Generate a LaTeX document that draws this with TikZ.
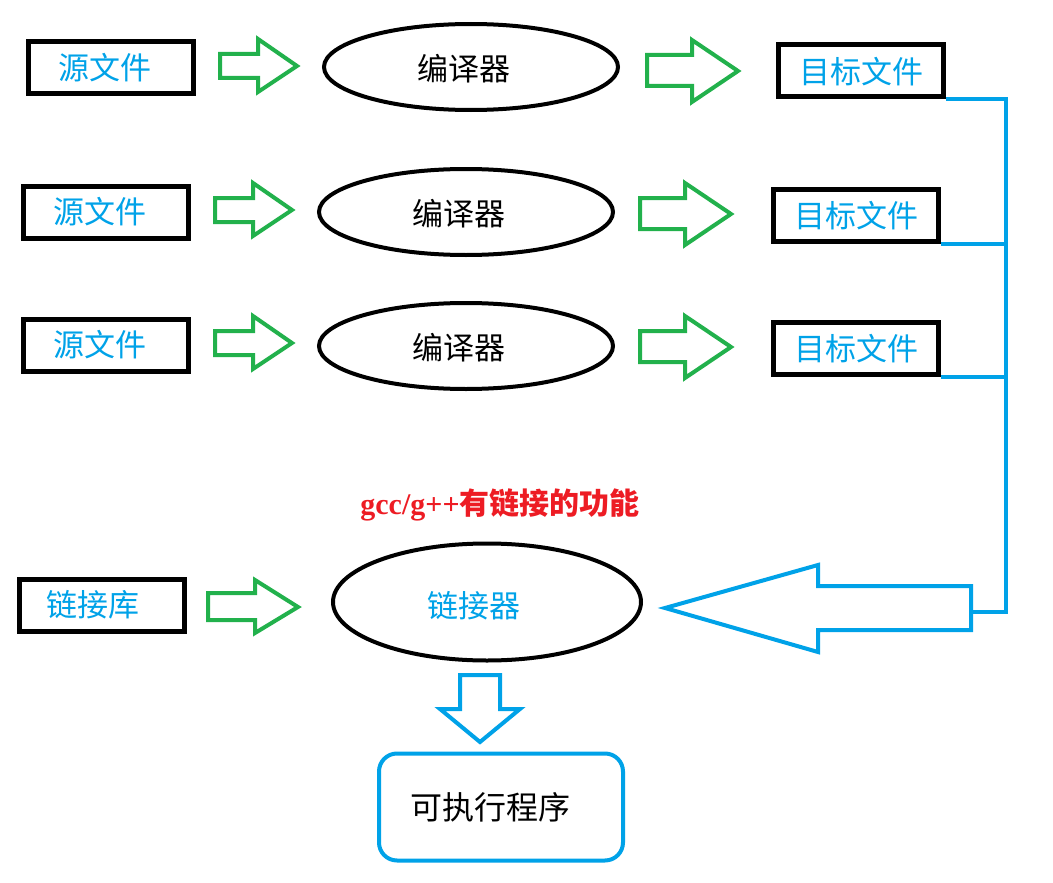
\documentclass[tikz,border=0pt]{standalone}
\usepackage{fontspec}
\setmainfont{Liberation Serif}
\newfontfamily\cjk{Noto Sans CJK SC}
\usetikzlibrary{shapes.geometric}
\definecolor{pblue}{RGB}{0,162,232}
\definecolor{pgreen}{RGB}{34,177,76}
\definecolor{pred}{RGB}{237,28,36}
\begin{document}
\begin{tikzpicture}[x=1pt,y=-1pt,
  box/.style={draw=black,line width=5pt,minimum width=165pt,minimum height=52pt,inner sep=0pt},
  ell/.style={draw=black,ellipse,line width=4pt,inner sep=0pt,minimum width=294pt,minimum height=86pt},
  lab/.style={font=\cjk\fontsize{31}{31}\selectfont,text=pblue,inner sep=0pt},
  blab/.style={font=\cjk\fontsize{31}{31}\selectfont,text=black,inner sep=0pt},
  garrow/.style={draw=pgreen,line width=4pt,line join=miter},
  barrow/.style={draw=pblue,line width=4pt,line join=miter},
  bline/.style={draw=pblue,line width=4pt}]
\useasboundingbox (0,0) rectangle (1053,883);
% row 1
\node[box] (s1) at (111,68) {};
\node[lab] at ([xshift=-6pt]s1.center) {源文件};
\node[ell] (c1) at (471,67) {};
\node[blab] at ([xshift=-7pt,yshift=-2pt]c1.center) {编译器};
\node[box] (t1) at (861,71) {};
\node[lab] at ([yshift=-1pt]t1.center) {目标文件};
% row 2
\node[box] (s2) at (106,212) {};
\node[lab] at ([xshift=-6pt]s2.center) {源文件};
\node[ell] (c2) at (466,212) {};
\node[blab] at ([xshift=-7pt,yshift=-2pt]c2.center) {编译器};
\node[box] (t2) at (856,215) {};
\node[lab] at ([yshift=-1pt]t2.center) {目标文件};
% row 3
\node[box] (s3) at (106,345) {};
\node[lab] at ([xshift=-6pt]s3.center) {源文件};
\node[ell] (c3) at (466,346) {};
\node[blab] at ([xshift=-7pt,yshift=-2pt]c3.center) {编译器};
\node[box] (t3) at (856,348) {};
\node[lab] at ([yshift=-1pt]t3.center) {目标文件};
% green arrows
\foreach \dx/\dy in {0/0,-5/144,-5/277}{
  \draw[garrow,shift={(\dx,\dy)}] (220,54) -- (258,54) -- (258,39) -- (297,66) -- (258,92) -- (258,78) -- (220,78) -- cycle;
}
\foreach \dx/\dy in {0/0,-7/143,-7/276}{
  \draw[garrow,shift={(\dx,\dy)}] (647,55) -- (692,55) -- (692,40) -- (738,71) -- (692,102) -- (692,86) -- (647,86) -- cycle;
}
% bottom
\node[text=pred,font=\bfseries\fontsize{30}{30}\selectfont,inner sep=0pt] (lbl) at (500,505) {gcc/g++{\cjk\bfseries 有链接的功能}};
\node[box] (lib) at (102,605) {};
\node[lab] at ([xshift=-9pt]lib.center) {链接库};
\draw[garrow] (208,593) -- (255,593) -- (255,580) -- (298,607) -- (255,633) -- (255,620) -- (208,620) -- cycle;
\node[ell,minimum width=308pt,minimum height=117pt] (lk) at (487,602) {};
\node[lab] at ([xshift=-13pt,yshift=-4pt]lk.center) {链接器};
% blue connector
\coordinate (j) at (1006,612);
\coordinate (ab) at (971,612);
\draw[bline] (t1.south east) -| (j) -- (ab);
\draw[bline] (t2.south east) -- (t2.south east -| j);
\draw[bline] (t3.south east) -- (t3.south east -| j);
\draw[barrow] (971,586) -- (818,586) -- (818,565) -- (665,608) -- (818,652) -- (818,630) -- (971,630) -- cycle;
% down arrow
\draw[barrow] (460,675) -- (500,675) -- (500,709) -- (520,709) -- (480,742) -- (440,709) -- (460,709) -- cycle;
\node[draw=pblue,line width=4pt,rounded corners=18pt,minimum width=244pt,minimum height=107pt,inner sep=0pt] (exe) at (501,807) {};
\node[blab,font=\cjk\fontsize{32}{32}\selectfont] at ([xshift=-11pt]exe.center) {可执行程序};
\end{tikzpicture}
\end{document}
